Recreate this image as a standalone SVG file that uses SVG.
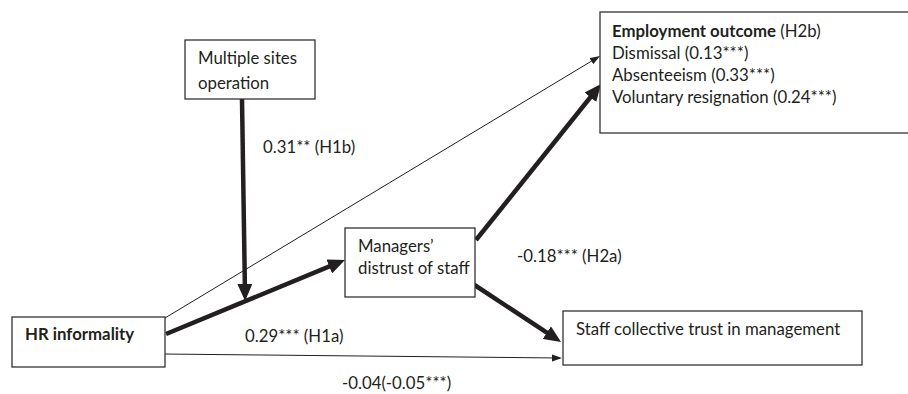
<svg xmlns="http://www.w3.org/2000/svg" width="908" height="394" viewBox="0 0 908 394">
<style>
.box{fill:#fff;stroke:#333;stroke-width:1.3}
.t{font-family:Lato,"Liberation Sans",sans-serif;font-size:16.8px;fill:#231f20}
.b{font-weight:bold}
.thick{stroke:#231f20;stroke-width:4.5;fill:none}
.thin{stroke:#231f20;stroke-width:1;fill:none}
</style>
<defs>
<marker id="ah" markerUnits="userSpaceOnUse" markerWidth="17" markerHeight="15" refX="10" refY="7.5" orient="auto"><path d="M0,0 L17,7.5 L0,15 z" fill="#231f20"/></marker>
<marker id="as" markerUnits="userSpaceOnUse" markerWidth="10" markerHeight="8" refX="8" refY="4" orient="auto"><path d="M0,0.5 L10,4 L0,7.5 z" fill="#231f20"/></marker>
</defs>
<rect width="908" height="394" fill="#fff"/>
<g id="connectors">
<line class="thin" x1="165" y1="318" x2="598.3" y2="57" marker-end="url(#as)"/>
<line class="thin" x1="162" y1="354" x2="560" y2="358" marker-end="url(#as)"/>
<line class="thick" x1="242" y1="99" x2="245" y2="294" marker-end="url(#ah)"/>
<line class="thick" x1="166" y1="334" x2="338.5" y2="262.7" marker-end="url(#ah)"/>
<line class="thick" x1="476" y1="240" x2="596.6" y2="89.5" marker-end="url(#ah)"/>
<line class="thick" x1="470" y1="282" x2="555.2" y2="338.1" marker-end="url(#ah)"/>
<text class="t" x="263" y="153">0.31** (H1b)</text>
<text class="t" x="245" y="342">0.29*** (H1a)</text>
<text class="t" x="517" y="262">-0.18*** (H2a)</text>
<text class="t" x="342" y="389">-0.04(-0.05***)</text>
</g>
<g id="multiple-sites">
<rect class="box" x="185" y="40" width="130" height="59"/>
<text class="t" x="198" y="64">Multiple sites</text>
<text class="t" x="198" y="89">operation</text>
</g>
<g id="employment-outcome">
<rect class="box" x="600" y="12" width="320" height="121"/>
<text class="t" x="612" y="37"><tspan class="b">Employment outcome</tspan> (H2b)</text>
<text class="t" x="612" y="59">Dismissal (0.13***)</text>
<text class="t" x="612" y="81">Absenteeism (0.33***)</text>
<text class="t" x="612" y="103">Voluntary resignation (0.24***)</text>
</g>
<g id="managers-distrust">
<rect class="box" x="345" y="228" width="130" height="69"/>
<text class="t" x="358" y="252">Managers’</text>
<text class="t" x="358" y="274">distrust of staff</text>
</g>
<g id="hr-informality">
<rect class="box" x="12" y="317" width="153" height="50"/>
<text class="t b" x="25" y="340">HR informality</text>
</g>
<g id="staff-trust">
<rect class="box" x="563" y="311" width="299" height="54"/>
<text class="t" x="576" y="335">Staff collective trust in management</text>
</g>
</svg>
